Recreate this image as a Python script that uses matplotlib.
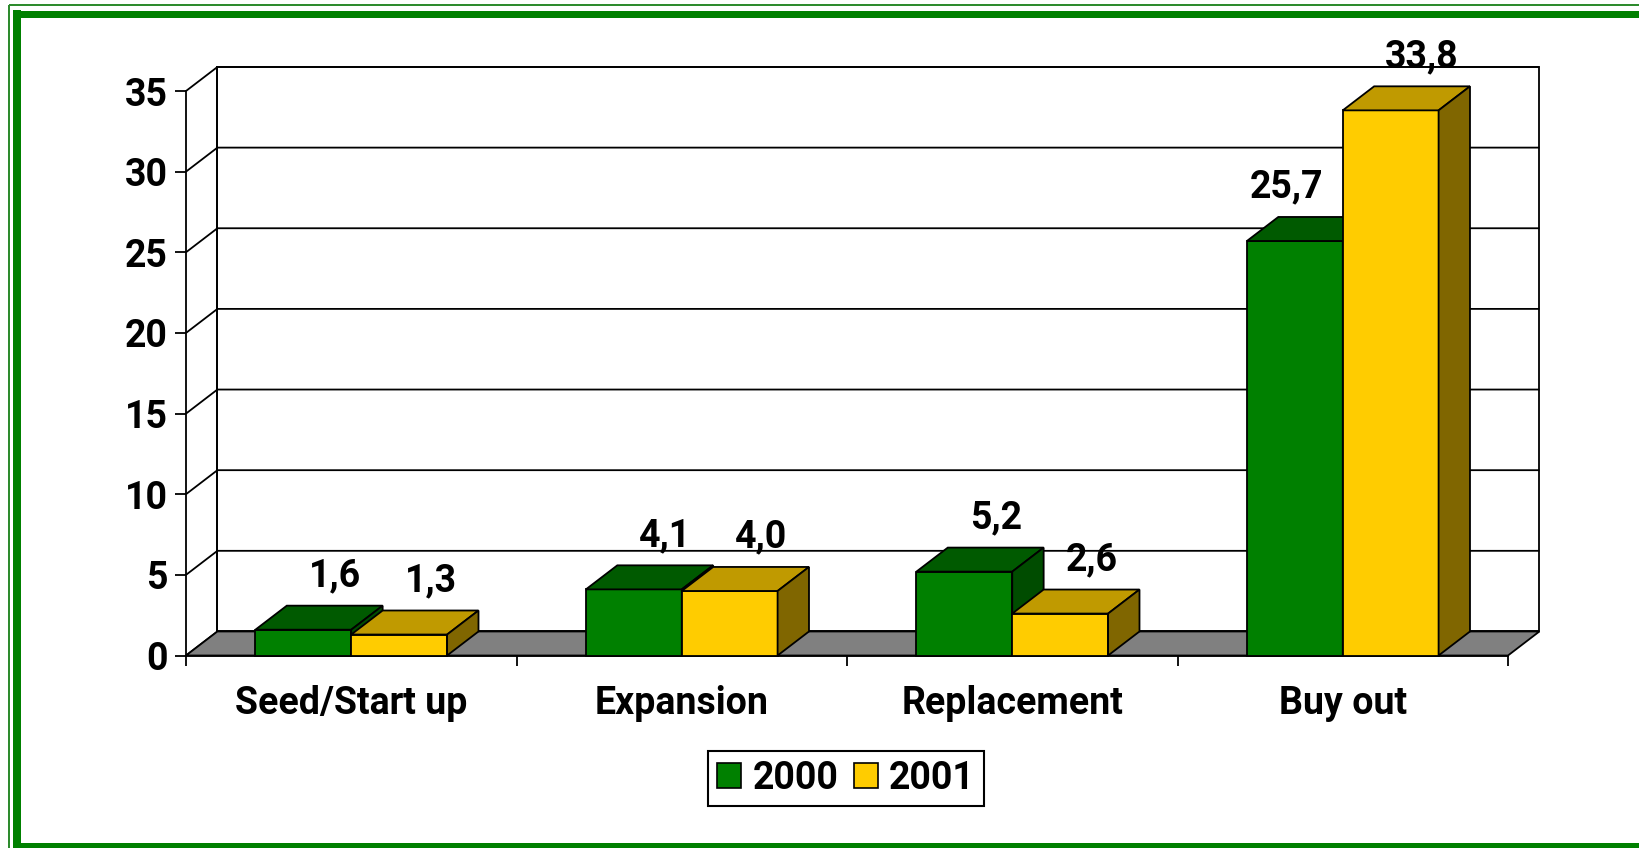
import matplotlib
matplotlib.use('Agg')
import matplotlib.pyplot as plt
from matplotlib.patches import Polygon, Patch
from matplotlib.lines import Line2D
import numpy as np

plt.rcParams['font.family'] = ['Roboto', 'DejaVu Sans']
plt.rcParams['font.weight'] = 'bold'
plt.rcParams['font.size'] = 27

categories = ['Seed/Start up', 'Expansion', 'Replacement', 'Buy out']
series = ['2000', '2001']
values_2000 = [1.6, 4.1, 5.2, 25.7]
values_2001 = [1.3, 4.0, 2.6, 33.8]
yticks = [0, 5, 10, 15, 20, 25, 30, 35]

front_col = ['#008000', '#ffcc00']
top_col = ['#005a00', '#c09a00']
side_col = ['#004c00', '#806600']

W, H = 1639, 848
fig = plt.figure(figsize=(W / 100, H / 100), dpi=100)
fig.patch.set_facecolor('white')

# front plane: x -0.5..3.5 -> px 186..1508, y 0..35 -> px 655.5..91 (from top)
ax = fig.add_axes([186 / W, 1 - 655.5 / H, (1508 - 186) / W, (655.5 - 91) / H])
ax.set_xlim(-0.5, len(categories) - 0.5)
ax.set_ylim(0, 35)
ax.patch.set_visible(False)

DX = 31.4 / 330.5   # depth offset in category units
DY = 1.49           # depth offset in value units
BW = 0.29
lw = 1.3
x_lo, x_hi = -0.5, len(categories) - 0.5
ytop = yticks[-1]

# back wall, left wall, floor
ax.add_patch(Polygon([(x_lo + DX, DY), (x_lo + DX, ytop + DY), (x_hi + DX, ytop + DY), (x_hi + DX, DY)],
                     closed=True, facecolor='white', edgecolor='black', lw=lw, clip_on=False, zorder=1))
for t in yticks:
    ax.plot([x_lo, x_lo + DX, x_hi + DX], [t, t + DY, t + DY], color='black', lw=lw,
            clip_on=False, zorder=2, solid_capstyle='butt')
ax.plot([x_lo + DX, x_lo + DX], [DY, ytop + DY], color='black', lw=lw, clip_on=False, zorder=2)
ax.add_patch(Polygon([(x_lo, 0), (x_lo + DX, DY), (x_hi + DX, DY), (x_hi, 0)],
                     closed=True, facecolor='#808080', edgecolor='black', lw=lw, clip_on=False, zorder=3))

# bars
x = np.arange(len(categories))
all_vals = [values_2000, values_2001]
for j, vals in enumerate(all_vals):
    rects = ax.bar(x - BW + j * BW, vals, BW, align='edge', color=front_col[j],
                   edgecolor='black', lw=lw, clip_on=False)
    for i, r in enumerate(rects):
        z = 10 + (i * 2 + j) * 3
        r.set_zorder(z)
        x0 = r.get_x()
        x1 = x0 + r.get_width()
        v = r.get_height()
        ax.add_patch(Polygon([(x0, v), (x0 + DX, v + DY), (x1 + DX, v + DY), (x1, v)], closed=True,
                             facecolor=top_col[j], edgecolor='black', lw=lw, clip_on=False, zorder=z + 1))
        ax.add_patch(Polygon([(x1, 0), (x1, v), (x1 + DX, v + DY), (x1 + DX, DY)], closed=True,
                             facecolor=side_col[j], edgecolor='black', lw=lw, clip_on=False, zorder=z + 2))
        # data label
        lx = x0 + BW / 2 + DX
        if j == 0 and all_vals[1][i] > v + DY + 3:
            lx = x0 + BW / 2 - 0.025
        ax.text(lx, v + DY + 1.2, f'{v:.1f}'.replace('.', ','), ha='center', va='baseline',
                fontsize=27, fontweight='bold', zorder=50, clip_on=False)

# axes
for s in ['top', 'right']:
    ax.spines[s].set_visible(False)
for s in ['left', 'bottom']:
    ax.spines[s].set_linewidth(lw)
    ax.spines[s].set_zorder(5)
ax.set_yticks(yticks)
ax.set_yticklabels([str(t) for t in yticks])
ax.tick_params(axis='y', length=8, width=lw, pad=5)
ax.set_xticks(x)
ax.set_xticklabels(categories)
ax.set_xticks(np.arange(len(categories) + 1) - 0.5, minor=True)
ax.tick_params(axis='x', which='major', length=0, pad=21.5)
ax.tick_params(axis='x', which='minor', length=7, width=lw)

# legend
handles = [Patch(facecolor=front_col[k], edgecolor='black', lw=1.2) for k in range(2)]
leg = fig.legend(handles, series, loc='center', bbox_to_anchor=(846 / W, 1 - 778.5 / H),
                 ncol=2, frameon=True, fancybox=False, edgecolor='black', framealpha=1,
                 handlelength=0.64, handleheight=0.64, handletextpad=0.3, columnspacing=0.4,
                 borderpad=0.25, borderaxespad=0, prop={'weight': 'bold', 'size': 27})
leg.get_frame().set_linewidth(1.5)

# green frame
def px_line(xs, ys, width, color):
    fig.add_artist(Line2D([v / W for v in xs], [1 - v / H for v in ys], transform=fig.transFigure,
                          color=color, lw=width * 0.72, solid_capstyle='butt'))

px_line([9, 9], [5, H + 10], 2, '#2e8b2e')
px_line([9, W + 10], [5, 5], 2, '#2e8b2e')
px_line([17, 17], [10, H + 10], 8, '#008000')
px_line([13, W + 10], [13.5, 13.5], 7, '#008000')
px_line([13, W + 10], [846, 846], 6, '#008000')

fig.savefig('out.png', dpi=100)
